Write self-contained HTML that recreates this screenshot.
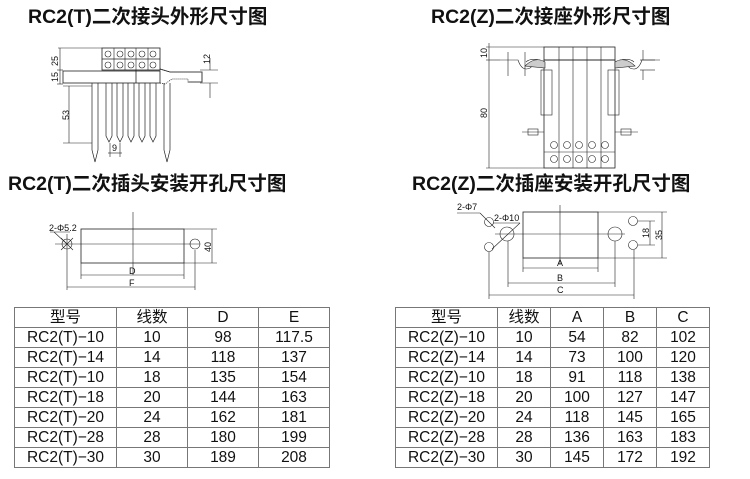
<!DOCTYPE html>
<html><head><meta charset="utf-8"><style>
body{margin:0;width:750px;height:479px;background:#fff;overflow:hidden;position:relative;font-family:"Liberation Sans","Noto Sans CJK SC",sans-serif;color:#111}
.t{position:absolute;font-size:19.5px;font-weight:bold;white-space:nowrap;line-height:22px}
table{position:absolute;border-collapse:collapse;font-size:15.5px}
td{border:1px solid #777;height:19px;padding:0;text-align:center;line-height:19px}
svg{position:absolute;left:0;top:0}
</style></head><body>
<div class="t" style="left:28px;top:6px">RC2(T)二次接头外形尺寸图</div>
<div class="t" style="left:431px;top:6px">RC2(Z)二次接座外形尺寸图</div>
<div class="t" style="left:8px;top:173px">RC2(T)二次插头安装开孔尺寸图</div>
<div class="t" style="left:412px;top:173px">RC2(Z)二次插座安装开孔尺寸图</div>

<svg width="750" height="479" viewBox="0 0 750 479" fill="none" stroke="#222" stroke-width="0.8" font-family="Liberation Sans" font-size="8">
<!-- Left top -->
<rect x="102" y="48" width="58" height="22"/><line x1="102" y1="59" x2="160" y2="59"/>
<g stroke-width="0.6">
<line x1="114" y1="48" x2="114" y2="70"/><line x1="125" y1="48" x2="125" y2="70"/><line x1="136" y1="48" x2="136" y2="70"/><line x1="148" y1="48" x2="148" y2="70"/>
<circle cx="108" cy="54" r="3"/><circle cx="120" cy="54" r="3"/><circle cx="131" cy="54" r="3"/><circle cx="142" cy="54" r="3"/><circle cx="153" cy="54" r="3"/>
<circle cx="108" cy="65" r="3"/><circle cx="120" cy="65" r="3"/><circle cx="131" cy="65" r="3"/><circle cx="142" cy="65" r="3"/><circle cx="153" cy="65" r="3"/>
</g>
<rect x="63" y="71" width="97" height="12"/><line x1="136" y1="70" x2="136" y2="83"/>
<path d="M160 69 L170 72 L202 72 L202 82 L188 82 L188 79 L172 79 L165 84 L160 83" stroke-dasharray="1 1"/>
<path d="M160 69 L170 72 L202 72 L202 82 L188 82"/>
<g stroke-width="0.7">
<path d="M92 83 V150 L95 162 L98 150 V83"/>
<path d="M106 83 V136 L109 142 L112 136 V83"/><path d="M117 83 V136 L120 142 L123 136 V83"/>
<path d="M128 83 V136 L131 142 L134 136 V83"/><path d="M139 83 V136 L142 142 L145 136 V83"/>
<path d="M150 83 V136 L153 142 L156 136 V83"/>
<path d="M164 83 V150 L167 162 L170 150 V83"/>
</g>
<g stroke-width="0.6">
<line x1="58" y1="48" x2="102" y2="48"/><line x1="60" y1="48" x2="60" y2="84"/><line x1="57" y1="70" x2="63" y2="70"/><line x1="57" y1="84" x2="63" y2="84"/>
<line x1="69" y1="86" x2="69" y2="143"/><line x1="63" y1="86" x2="92" y2="86"/><line x1="63" y1="143" x2="92" y2="143"/>
<line x1="110" y1="143" x2="110" y2="157"/><line x1="120" y1="143" x2="120" y2="157"/><line x1="108" y1="153" x2="122" y2="153"/>
<line x1="200" y1="70" x2="218" y2="70"/><line x1="200" y1="83" x2="218" y2="83"/><line x1="210" y1="58" x2="210" y2="70"/><line x1="210" y1="83" x2="210" y2="98"/>
</g>
<g fill="#111" stroke="none" font-size="9">
<text transform="translate(58 66) rotate(-90)">25</text><text transform="translate(58 82) rotate(-90)">15</text>
<text transform="translate(69 120) rotate(-90)">53</text><text transform="translate(210 64) rotate(-90)">12</text>
<text x="112" y="151">9</text>
</g>
<!-- Left bottom -->
<rect x="81" y="229" width="103" height="34"/>
<g stroke-width="0.6">
<line x1="133" y1="212" x2="133" y2="275"/><line x1="55" y1="244" x2="200" y2="244"/>
<circle cx="67" cy="244" r="5"/><circle cx="195" cy="244" r="5"/>
<line x1="61" y1="238" x2="73" y2="250"/><line x1="61" y1="250" x2="73" y2="238"/><line x1="67" y1="234" x2="67" y2="290"/>
<line x1="50" y1="232" x2="70" y2="232"/><line x1="54" y1="232" x2="67" y2="244"/>
<line x1="184" y1="229" x2="217" y2="229"/><line x1="184" y1="263" x2="217" y2="263"/><line x1="212" y1="229" x2="212" y2="263"/>
<line x1="81" y1="263" x2="81" y2="279"/><line x1="184" y1="263" x2="184" y2="279"/><line x1="81" y1="275" x2="184" y2="275"/>
<line x1="195" y1="250" x2="195" y2="290"/><line x1="67" y1="287" x2="195" y2="287"/>
</g>
<g fill="#111" stroke="none" font-size="9">
<text x="49" y="231">2-Φ5.2</text><text transform="translate(211 252) rotate(-90)">40</text>
<text x="129" y="274">D</text><text x="129" y="286">F</text>
</g>
<!-- Right top -->
<rect x="544" y="47" width="71" height="13"/><rect x="544" y="60" width="71" height="108"/>
<g stroke-width="0.6">
<line x1="559" y1="47" x2="559" y2="168"/><line x1="573" y1="47" x2="573" y2="168"/><line x1="587" y1="47" x2="587" y2="168"/><line x1="601" y1="47" x2="601" y2="168"/>
<line x1="544" y1="152" x2="615" y2="152"/>
<rect x="541" y="70" width="11" height="45"/><rect x="608" y="70" width="11" height="45"/>
<circle cx="554" cy="145" r="3.5"/><circle cx="567" cy="145" r="3.5"/><circle cx="579" cy="145" r="3.5"/><circle cx="592" cy="145" r="3.5"/><circle cx="605" cy="145" r="3.5"/>
<circle cx="554" cy="159" r="3.5"/><circle cx="567" cy="159" r="3.5"/><circle cx="579" cy="159" r="3.5"/><circle cx="592" cy="159" r="3.5"/><circle cx="605" cy="159" r="3.5"/>
<path d="M500 60 H518 Q522 72 530 68 L540 60 Q530 58 526 62" /><path d="M525 66 Q535 56 545 62 L545 68 Z" fill="#ccc"/>
<path d="M660 60 H642 Q638 72 630 68 L620 60 Q630 58 634 62"/><path d="M635 66 Q625 56 615 62 L615 68 Z" fill="#ccc"/>
<line x1="508" y1="52" x2="508" y2="76"/><line x1="525" y1="52" x2="525" y2="76"/>
<line x1="522" y1="132" x2="544" y2="132"/><rect x="528" y="129" width="10" height="6"/>
<line x1="615" y1="132" x2="638" y2="132"/><rect x="621" y="129" width="10" height="6"/>
<line x1="486" y1="47" x2="544" y2="47"/><line x1="489" y1="43" x2="489" y2="168"/><line x1="486" y1="60" x2="500" y2="60"/><line x1="486" y1="168" x2="544" y2="168"/>
<line x1="640" y1="60" x2="655" y2="60"/><line x1="640" y1="70" x2="655" y2="70"/><line x1="643" y1="50" x2="643" y2="60"/><line x1="643" y1="70" x2="643" y2="80"/>
</g>
<g fill="#111" stroke="none" font-size="9">
<text transform="translate(487 58) rotate(-90)">10</text><text transform="translate(487 118) rotate(-90)">80</text>
</g>
<!-- Right bottom -->
<rect x="523" y="212" width="75" height="46"/>
<g stroke-width="0.6">
<line x1="560" y1="205" x2="560" y2="265"/><line x1="495" y1="234" x2="625" y2="234"/>
<circle cx="507" cy="234" r="7"/><circle cx="615" cy="234" r="7"/>
<circle cx="489" cy="222" r="4.5"/><circle cx="489" cy="247" r="4.5"/><circle cx="633" cy="221" r="4.5"/><circle cx="633" cy="245" r="4.5"/>
<line x1="457" y1="213" x2="480" y2="213"/><line x1="480" y1="213" x2="495" y2="228"/><line x1="493" y1="223" x2="520" y2="223"/><line x1="520" y1="223" x2="492" y2="249"/>
<line x1="523" y1="258" x2="523" y2="272"/><line x1="598" y1="258" x2="598" y2="272"/><line x1="523" y1="268" x2="598" y2="268"/>
<line x1="508" y1="241" x2="508" y2="287"/><line x1="615" y1="241" x2="615" y2="287"/><line x1="508" y1="283" x2="615" y2="283"/>
<line x1="489" y1="252" x2="489" y2="299"/><line x1="634" y1="250" x2="634" y2="299"/><line x1="489" y1="295" x2="634" y2="295"/>
<line x1="638" y1="221" x2="655" y2="221"/><line x1="638" y1="245" x2="655" y2="245"/><line x1="650" y1="221" x2="650" y2="245"/>
<line x1="598" y1="212" x2="667" y2="212"/><line x1="598" y1="258" x2="667" y2="258"/><line x1="662" y1="212" x2="662" y2="258"/>
</g>
<g fill="#111" stroke="none" font-size="9">
<text x="457" y="210">2-Φ7</text><text x="494" y="221">2-Φ10</text>
<text x="557" y="266">A</text><text x="557" y="281">B</text><text x="557" y="293">C</text>
<text transform="translate(649 238) rotate(-90)">18</text><text transform="translate(662 240) rotate(-90)">35</text>
</g>
</svg>

<table style="left:14px;top:307px">
<tr><td style="width:101px">型号</td><td style="width:70px">线数</td><td style="width:70px">D</td><td style="width:70px">E</td></tr>
<tr><td>RC2(T)−10</td><td>10</td><td>98</td><td>117.5</td></tr>
<tr><td>RC2(T)−14</td><td>14</td><td>118</td><td>137</td></tr>
<tr><td>RC2(T)−10</td><td>18</td><td>135</td><td>154</td></tr>
<tr><td>RC2(T)−18</td><td>20</td><td>144</td><td>163</td></tr>
<tr><td>RC2(T)−20</td><td>24</td><td>162</td><td>181</td></tr>
<tr><td>RC2(T)−28</td><td>28</td><td>180</td><td>199</td></tr>
<tr><td>RC2(T)−30</td><td>30</td><td>189</td><td>208</td></tr>
</table>
<table style="left:395px;top:307px">
<tr><td style="width:101px">型号</td><td style="width:52px">线数</td><td style="width:52px">A</td><td style="width:52px">B</td><td style="width:52px">C</td></tr>
<tr><td>RC2(Z)−10</td><td>10</td><td>54</td><td>82</td><td>102</td></tr>
<tr><td>RC2(Z)−14</td><td>14</td><td>73</td><td>100</td><td>120</td></tr>
<tr><td>RC2(Z)−10</td><td>18</td><td>91</td><td>118</td><td>138</td></tr>
<tr><td>RC2(Z)−18</td><td>20</td><td>100</td><td>127</td><td>147</td></tr>
<tr><td>RC2(Z)−20</td><td>24</td><td>118</td><td>145</td><td>165</td></tr>
<tr><td>RC2(Z)−28</td><td>28</td><td>136</td><td>163</td><td>183</td></tr>
<tr><td>RC2(Z)−30</td><td>30</td><td>145</td><td>172</td><td>192</td></tr>
</table>
</body></html>
